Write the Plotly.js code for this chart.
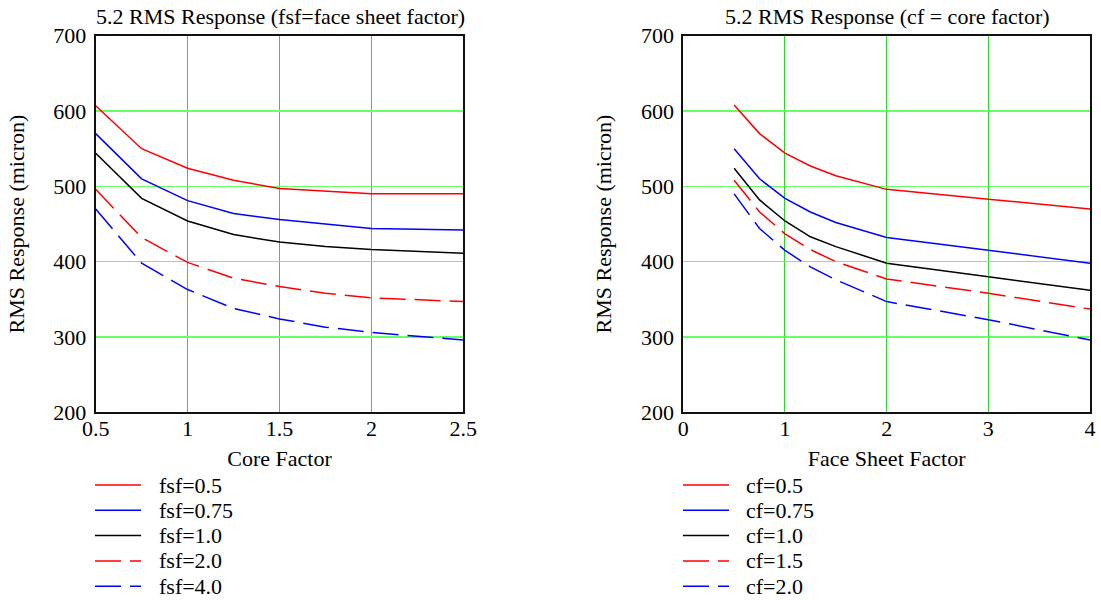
<!DOCTYPE html>
<html>
<head>
<meta charset="utf-8">
<script src="https://cdn.plot.ly/plotly-3.0.1.min.js"></script>
<style>
  html, body { margin: 0; padding: 0; background: #fff; }
  #chart { width: 1101px; height: 600px; }
</style>
</head>
<body>
<div id="chart"></div>
<script>
// Left panel: RMS response against core factor, one curve per face sheet factor
const coreFactor = [0.5, 0.75, 1.0, 1.25, 1.5, 1.75, 2.0, 2.5];
const fsfNames = ['fsf=0.5', 'fsf=0.75', 'fsf=1.0', 'fsf=2.0', 'fsf=4.0'];
const fsf05  = [607, 550, 524, 508, 497, 494, 490, 490];
const fsf075 = [570, 510, 481, 464, 456, 450, 444, 442];
const fsf10  = [544, 484, 454, 436, 426, 420, 416, 411];
const fsf20  = [496, 432, 399, 378, 367, 358, 352, 347];
const fsf40  = [470, 398, 363, 338, 324, 313, 306, 296];

// Right panel: RMS response against face sheet factor, one curve per core factor
const faceSheetFactor = [0.5, 0.75, 1.0, 1.25, 1.5, 2.0, 3.0, 4.0];
const cfNames = ['cf=0.5', 'cf=0.75', 'cf=1.0', 'cf=1.5', 'cf=2.0'];
const cf05  = [608, 570, 544, 527, 514, 496, 483, 470];
const cf075 = [550, 510, 484, 466, 452, 432, 415, 398];
const cf10  = [524, 482, 454, 433, 420, 398, 380, 362];
const cf15  = [508, 466, 437, 416, 400, 377, 358, 337];
const cf20  = [490, 444, 415, 393, 376, 347, 323, 296];

const styles = [
  {color: '#ff0000', dash: 'solid'},
  {color: '#0000ff', dash: 'solid'},
  {color: '#000000', dash: 'solid'},
  {color: '#ff0000', dash: '26px,9px'},
  {color: '#0000ff', dash: '26px,9px'}
];

const serif = '"Liberation Serif", "Times New Roman", serif';
const W = 1101, H = 600;

const leftSeries = [fsf05, fsf075, fsf10, fsf20, fsf40];
const rightSeries = [cf05, cf075, cf10, cf15, cf20];

const traces = [];
leftSeries.forEach((ys, i) => {
  traces.push({
    x: coreFactor, y: ys, name: fsfNames[i], type: 'scatter', mode: 'lines',
    xaxis: 'x', yaxis: 'y', showlegend: false,
    line: {color: styles[i].color, dash: styles[i].dash, width: 1.5}
  });
});
rightSeries.forEach((ys, i) => {
  traces.push({
    x: faceSheetFactor, y: ys, name: cfNames[i], type: 'scatter', mode: 'lines',
    xaxis: 'x2', yaxis: 'y2', showlegend: false,
    line: {color: styles[i].color, dash: styles[i].dash, width: 1.5}
  });
});

// Legend blocks under each panel: a sample line plus the series name per row
const shapes = [];
const annotations = [];
function addKey(names, lineX0, textX) {
  names.forEach((name, i) => {
    const yPx = 485 + i * 25.3;
    shapes.push({
      type: 'line', xref: 'paper', yref: 'paper',
      x0: lineX0 / W, x1: (lineX0 + 46) / W, y0: 1 - yPx / H, y1: 1 - yPx / H,
      line: {color: styles[i].color, dash: styles[i].dash, width: 1.5}
    });
    annotations.push({
      text: name, xref: 'paper', yref: 'paper', x: textX / W, y: 1 - yPx / H,
      xanchor: 'left', yanchor: 'middle', showarrow: false,
      font: {family: serif, size: 22, color: '#000'}
    });
  });
}
addKey(fsfNames, 95, 157);
addKey(cfNames, 683, 744);

annotations.push(
  {text: '5.2 RMS Response (fsf=face sheet factor)', xref: 'paper', yref: 'paper',
   x: 280 / W, y: 1 - 17 / H, xanchor: 'center', yanchor: 'middle', showarrow: false,
   font: {family: serif, size: 22, color: '#000'}},
  {text: '5.2 RMS Response (cf = core factor)', xref: 'paper', yref: 'paper',
   x: 887 / W, y: 1 - 17 / H, xanchor: 'center', yanchor: 'middle', showarrow: false,
   font: {family: serif, size: 22, color: '#000'}}
);

const axisCommon = {
  showline: true, mirror: true, linecolor: '#111', linewidth: 2,
  ticks: '', zeroline: false, automargin: false,
  gridcolor: '#22dd22', gridwidth: 1,
  tickfont: {family: serif, size: 22, color: '#000'}
};
const titleFont = {family: serif, size: 22, color: '#000'};

const layout = {
  width: W, height: H,
  paper_bgcolor: '#fff', plot_bgcolor: '#fff',
  margin: {l: 0, r: 0, t: 0, b: 0},
  font: {family: serif, color: '#000'},
  showlegend: false,
  xaxis: Object.assign({}, axisCommon, {
    domain: [95.7 / W, 463.3 / W], range: [0.5, 2.5], dtick: 0.5, tick0: 0.5,
    anchor: 'y', ticklabelstandoff: -5,
    title: {text: 'Core Factor', font: titleFont, standoff: 11}
  }),
  yaxis: Object.assign({}, axisCommon, {
    domain: [1 - 412.3 / H, 1 - 35.7 / H], range: [200, 700], dtick: 100,
    anchor: 'x', gridcolor: '#66ff66', gridwidth: 1.5, ticklabelstandoff: 3,
    title: {text: 'RMS Response (micron)', font: titleFont, standoff: 23}
  }),
  xaxis2: Object.assign({}, axisCommon, {
    domain: [683.3 / W, 1090 / W], range: [0, 4], dtick: 1,
    anchor: 'y2', ticklabelstandoff: -5,
    title: {text: 'Face Sheet Factor', font: titleFont, standoff: 11}
  }),
  yaxis2: Object.assign({}, axisCommon, {
    domain: [1 - 412.3 / H, 1 - 35.7 / H], range: [200, 700], dtick: 100,
    anchor: 'x2', gridcolor: '#66ff66', gridwidth: 1.5, ticklabelstandoff: 3,
    title: {text: 'RMS Response (micron)', font: titleFont, standoff: 23}
  }),
  shapes: shapes,
  annotations: annotations
};

Plotly.newPlot('chart', traces, layout, {staticPlot: true, displayModeBar: false});
</script>
</body>
</html>
